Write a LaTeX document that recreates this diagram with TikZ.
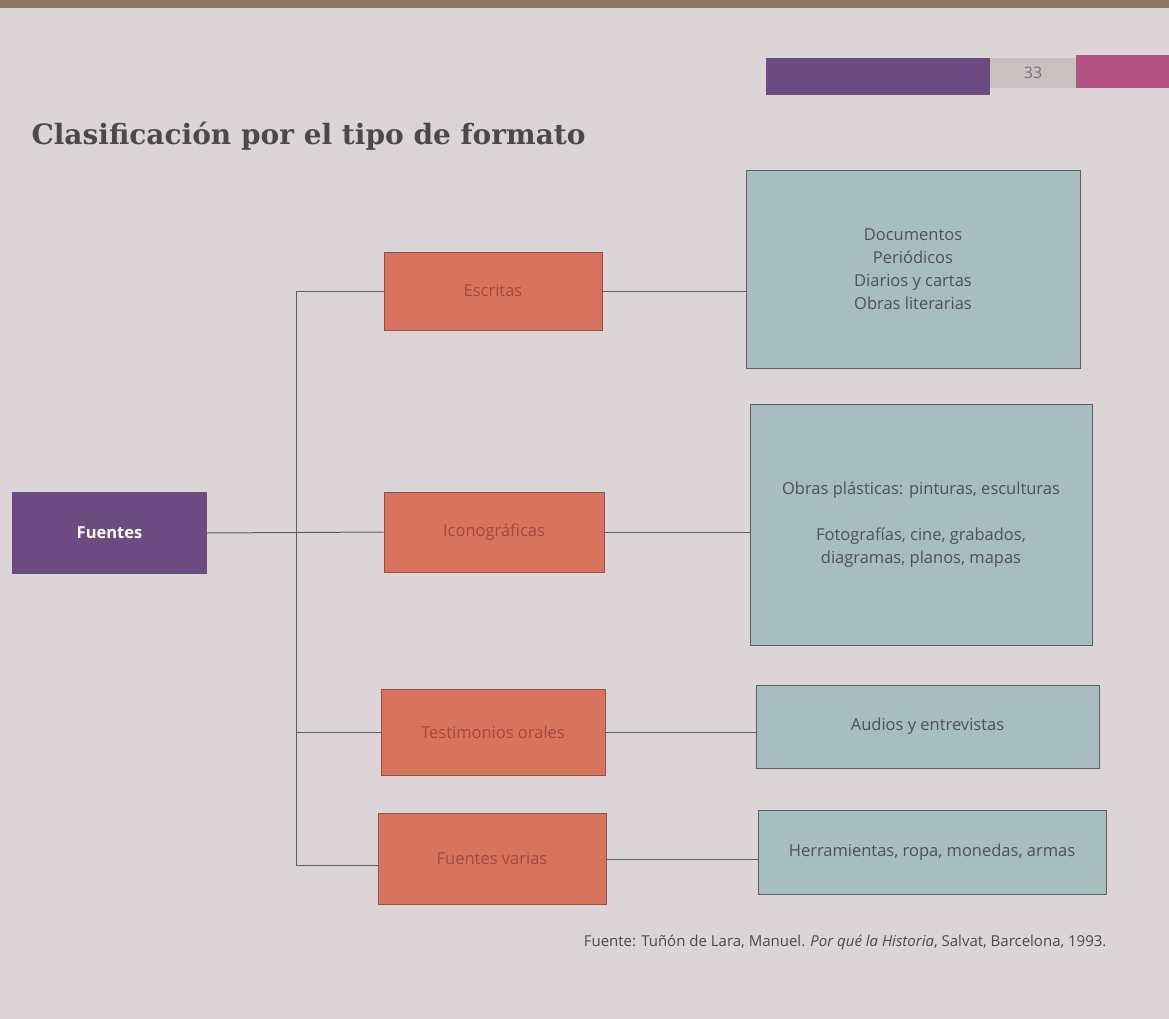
\documentclass[tikz,border=0pt]{standalone}
\usepackage{fontspec}
\setmainfont{Open Sans}
\newfontfamily\titlefont{DejaVu Serif}
\usetikzlibrary{positioning}
\definecolor{pagebg}{HTML}{DCD5D8}
\definecolor{topstrip}{HTML}{8C7A62}
\definecolor{purplebox}{HTML}{6C4C80}
\definecolor{salmon}{HTML}{D8735E}
\definecolor{tealgrey}{HTML}{A8BDBF}
\definecolor{txtgrey}{HTML}{4E5254}
\definecolor{redtxt}{HTML}{A24A3E}
\definecolor{pinkbar}{HTML}{B05282}
\definecolor{linegrey}{HTML}{5E5E5E}
\definecolor{numbox}{HTML}{C9C0C1}
\definecolor{numtxt}{HTML}{777777}
\definecolor{darktxt}{HTML}{4A4A4A}
\tikzset{
  catbox/.style={rectangle, fill=salmon, draw=salmon!70!black, line width=0.6pt, text=redtxt, font=\fontsize{16.5}{18}\selectfont, inner sep=0pt},
  itembox/.style={rectangle, fill=tealgrey, draw=linegrey, line width=0.8pt, text=txtgrey, font=\fontsize{16.5}{23}\selectfont, align=center, inner sep=0pt},
  conn/.style={draw=linegrey, line width=1pt}
}
\begin{document}
\begin{tikzpicture}[x=1pt,y=-1pt]
\useasboundingbox (0,0) rectangle (1169,1019);
\fill[pagebg] (0,0) rectangle (1169,1019);
\fill[topstrip] (0,0) rectangle (1169,8);
% header bars
\fill[purplebox] (766,58) rectangle (990,95);
\fill[numbox] (990,58) rectangle (1076,88);
\node[text=numtxt, font=\fontsize{16}{18}\selectfont] (pnum) at (1033,73) {33};
\fill[pinkbar] (1076,55) rectangle (1169,88);
% title
\node[anchor=west, text=darktxt, font=\titlefont\bfseries\fontsize{28}{32}\selectfont] (title) at (28,136) {Clasificación por el tipo de formato};
% root
\node[rectangle, fill=purplebox, text=white, font=\bfseries\fontsize{16.5}{18}\selectfont, minimum width=195pt, minimum height=82pt, inner sep=0pt] (fuentes) at (109.5,533) {Fuentes};
% categories
\node[catbox, minimum width=218pt, minimum height=78pt] (escritas) at (493,291) {Escritas};
\node[catbox, minimum width=220pt, minimum height=80pt] (icono) at (494,532) {Iconográficas};
\node[catbox, minimum width=224pt, minimum height=86pt] (testim) at (493,732) {Testimonios orales};
\node[catbox, minimum width=228pt, minimum height=91pt] (varias) at (492,859) {Fuentes varias};
% items
\node[itembox, minimum width=334pt, minimum height=198pt] (it1) at (913,269) {Documentos\\Periódicos\\Diarios y cartas\\Obras literarias};
\node[itembox, minimum width=342pt, minimum height=241pt] (it2) at (921,524.5) {Obras plásticas: pinturas, esculturas\\[23pt]Fotografías, cine, grabados,\\diagramas, planos, mapas};
\node[itembox, minimum width=343pt, minimum height=83pt] (it3) at (927.5,726.5) {Audios y entrevistas};
\node[itembox, minimum width=348pt, minimum height=84pt] (it4) at (932,852) {Herramientas, ropa, monedas, armas};
% trunk
\coordinate (ttop) at (296,291);
\coordinate (tbot) at (296,865);
\draw[conn] (fuentes.east) -- (icono.west);
\draw[conn] (ttop) -- (tbot);
\draw[conn] (ttop) -- (escritas.west);
\draw[conn] (testim.west -| ttop) -- (testim.west);
\draw[conn] (tbot) -- (varias.west |- tbot);
% right connectors
\draw[conn] (escritas.east) -- (escritas.east -| it1.west);
\draw[conn] (icono.east) -- (icono.east -| it2.west);
\draw[conn] (testim.east) -- (testim.east -| it3.west);
\draw[conn] (varias.east) -- (varias.east -| it4.west);
% source
\node[anchor=east, text=darktxt, font=\fontsize{15}{17}\selectfont] (src) at (1110,943) {Fuente: Tuñón de Lara, Manuel. \textit{Por qué la Historia}, Salvat, Barcelona, 1993.};
\end{tikzpicture}
\end{document}
